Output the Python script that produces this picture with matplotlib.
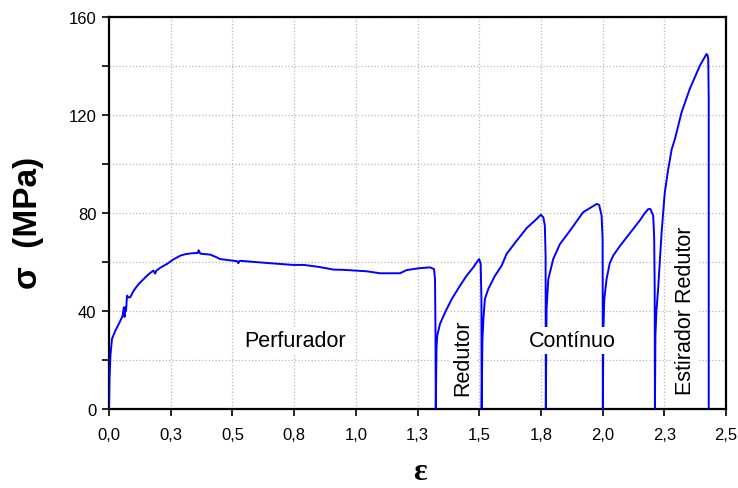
#!/usr/bin/env python3
"""Flow curve (sigma vs epsilon) across the rolling passes."""

import matplotlib
matplotlib.use("Agg")
import matplotlib.pyplot as plt
from matplotlib.ticker import MultipleLocator, FixedLocator

# ---------------------------------------------------------------------------
# Data (strain, stress in MPa), one list pair per pass
# ---------------------------------------------------------------------------

perfurador_eps = [0.0, 0.002, 0.006, 0.012, 0.026, 0.046, 0.055, 0.06, 0.063, 0.066,
                  0.069, 0.073, 0.08, 0.086, 0.1, 0.12, 0.14, 0.16, 0.18, 0.187,
                  0.192, 0.21, 0.235, 0.26, 0.289, 0.31, 0.33, 0.36, 0.363, 0.37,
                  0.41, 0.43, 0.45, 0.504, 0.52, 0.524, 0.53, 0.64, 0.747, 0.79,
                  0.85, 0.91, 0.95, 1.045, 1.098, 1.179, 1.206, 1.26, 1.301, 1.317,
                  1.321, 1.323, 1.324]
perfurador_sig = [0, 12, 22, 28.6, 32, 36, 38, 41.5, 37.6, 41.5,
                  40, 46.3, 45.5, 45.6, 48.3, 51, 53, 55, 56.5, 55.3,
                  56.5, 57.8, 59.2, 61, 62.6, 63.2, 63.5, 63.7, 64.8, 63.4,
                  63, 62.2, 61.2, 60.5, 60.3, 59.5, 60.5, 59.6, 58.8, 58.8,
                  58, 56.9, 56.8, 56.2, 55.4, 55.4, 56.7, 57.5, 57.8, 57.1,
                  53, 30, 0]

redutor_eps = [1.324, 1.327, 1.33, 1.341, 1.362, 1.389, 1.422, 1.449, 1.476, 1.494,
               1.5, 1.506, 1.509, 1.51]
redutor_sig = [0, 25, 29.9, 34.7, 39.5, 44.9, 50.3, 54.4, 57.8, 60.5,
               61.2, 59.2, 44.9, 0]

continuo1_eps = [1.51, 1.513, 1.517, 1.523, 1.537, 1.564, 1.591, 1.611, 1.652, 1.692,
                 1.733, 1.75, 1.76, 1.766, 1.769, 1.77]
continuo1_sig = [0, 28, 36.7, 44.9, 49, 54.4, 58.5, 63.3, 68.7, 73.8,
                 77.6, 79.3, 78.2, 74.8, 62.6, 0]

continuo2_eps = [1.77, 1.772, 1.773, 1.78, 1.8, 1.827, 1.868, 1.921, 1.976, 1.986,
                 1.996, 2.0, 2.001]
continuo2_sig = [0, 30, 40.8, 53, 61.2, 67.3, 72.8, 80.3, 83.7, 83.3,
                 78.9, 69.4, 0]

continuo3_eps = [2.001, 2.003, 2.007, 2.016, 2.029, 2.043, 2.07, 2.097, 2.12, 2.151,
                 2.17, 2.185, 2.194, 2.205, 2.209, 2.211, 2.212]
continuo3_sig = [0, 32, 44.9, 53, 59.5, 62.6, 66.5, 70, 73, 77,
                 79.8, 81.6, 81.6, 78.9, 70, 50, 0]

estirador_eps = [2.212, 2.214, 2.218, 2.225, 2.239, 2.252, 2.266, 2.28, 2.293, 2.32,
                 2.353, 2.394, 2.421, 2.425, 2.428, 2.43, 2.43]
estirador_sig = [0, 30, 40, 49, 72, 88.4, 98, 106, 110.2, 121.1,
                 130.6, 140.1, 144.9, 144.5, 142.9, 126.5, 0]

x_ticks = [0.0, 0.25, 0.5, 0.75, 1.0, 1.25, 1.5, 1.75, 2.0, 2.25, 2.5]
x_tick_labels = ["0,0", "0,3", "0,5", "0,8", "1,0", "1,3", "1,5", "1,8", "2,0", "2,3", "2,5"]
y_ticks = [0, 40, 80, 120, 160]

stage_labels = ["Perfurador", "Redutor", "Contínuo", "Estirador Redutor"]
stage_label_pos = [(0.754, 25.8), (1.456, 21.4), (1.878, 25.8), (2.36, 40.5)]
stage_label_rot = [0, 90, 0, 90]


eps = (perfurador_eps + redutor_eps + continuo1_eps + continuo2_eps
       + continuo3_eps + estirador_eps)
sig = (perfurador_sig + redutor_sig + continuo1_sig + continuo2_sig
       + continuo3_sig + estirador_sig)

plt.rcParams["font.family"] = ["Liberation Sans", "DejaVu Sans"]

fig = plt.figure(figsize=(7.38, 4.89), dpi=100)
ax = fig.add_axes([109 / 738, 79 / 489, 617 / 738, 392 / 489])

ax.plot(eps, sig, color="#0000ff", linewidth=1.4, zorder=3)

ax.set_xlim(0, 2.5)
ax.set_ylim(0, 160)
ax.xaxis.set_major_locator(FixedLocator(x_ticks))
ax.set_xticklabels(x_tick_labels)
ax.yaxis.set_major_locator(FixedLocator(y_ticks))
ax.yaxis.set_minor_locator(MultipleLocator(20))

ax.grid(True, which="major", axis="x", color="#b8b8b8", linestyle=":", linewidth=0.9)
ax.grid(True, which="both", axis="y", color="#b8b8b8", linestyle=":", linewidth=0.9)
ax.set_axisbelow(True)

ax.tick_params(which="both", direction="out", top=False, right=False, width=1.2,
               length=5, labelsize=12, colors="black")
ax.tick_params(axis="y", pad=4)
ax.tick_params(axis="x", pad=8)
for side in ["left", "bottom", "top", "right"]:
    ax.spines[side].set_linewidth(1.6)

for text, (x, y), rot in zip(stage_labels, stage_label_pos, stage_label_rot):
    ax.text(x, y, text, fontsize=15.5, rotation=rot, rotation_mode="anchor",
            ha="center", va="baseline", zorder=5,
            bbox=dict(facecolor="white", edgecolor="none", pad=2))

fig.text(29 / 738, 1 - 223 / 489, "σ  (MPa)", rotation=90, ha="center", va="center",
         fontsize=24, fontweight="bold")
fig.text(419.5 / 738, 1 - 472 / 489, "ε", ha="center", va="center", fontsize=23,
         fontweight="bold", family=["Liberation Serif", "DejaVu Serif"])

fig.savefig("out.png", dpi=100)
